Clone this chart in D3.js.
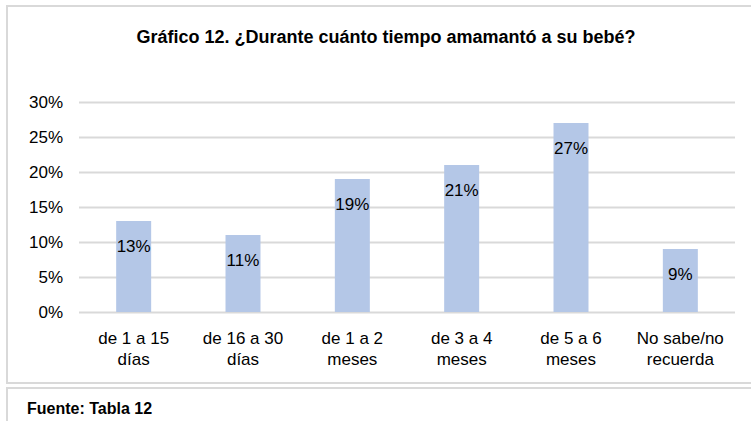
<!DOCTYPE html>
<html>
<head>
<meta charset="utf-8">
<script src="https://cdn.jsdelivr.net/npm/d3@7"></script>
<style>
  body { margin: 0; background: #fff; }
  svg { display: block; font-family: "Liberation Sans", Arial, sans-serif; }
</style>
</head>
<body>
<svg id="chart" width="751" height="421"></svg>
<script>
// data
const categories = [
  ["de 1 a 15", "días"],
  ["de 16 a 30", "días"],
  ["de 1 a 2", "meses"],
  ["de 3 a 4", "meses"],
  ["de 5 a 6", "meses"],
  ["No sabe/no", "recuerda"]
];
const values = [0.13, 0.11, 0.19, 0.21, 0.27, 0.09];
const yTicks = [0, 0.05, 0.10, 0.15, 0.20, 0.25, 0.30];
const title = "Gráfico 12. ¿Durante cuánto tiempo amamantó a su bebé?";
const source = "Fuente: Tabla 12";

const svg = d3.select("#chart");
const margin = { left: 79, right: 16, top: 102, bottom: 109 };
const W = 751, H = 421;

// frames
svg.append("rect")
  .attr("x", 7).attr("y", 6)
  .attr("width", 760).attr("height", 377)
  .attr("fill", "none").attr("stroke", "#d9d9d9").attr("stroke-width", 2);
svg.append("rect")
  .attr("x", 7).attr("y", 388)
  .attr("width", 760).attr("height", 60)
  .attr("fill", "none").attr("stroke", "#d9d9d9").attr("stroke-width", 2);

const x = d3.scaleBand()
  .domain(d3.range(categories.length))
  .range([margin.left, W - margin.right])
  .paddingInner(0.68).paddingOuter(0.34);

const y = d3.scaleLinear()
  .domain([0, 0.30])
  .range([312, margin.top]);

// grid
svg.append("g")
  .selectAll("line")
  .data(yTicks)
  .enter()
  .append("line")
    .attr("x1", margin.left)
    .attr("x2", W - margin.right)
    .attr("y1", d => Math.round(y(d)) + 0.5)
    .attr("y2", d => Math.round(y(d)) + 0.5)
    .attr("stroke", "#d9d9d9")
    .attr("stroke-width", 2);

// y axis labels
const yAxis = d3.axisLeft(y)
  .tickValues(yTicks)
  .tickFormat(d3.format(".0%"))
  .tickSize(0)
  .tickPadding(16);
svg.append("g")
  .attr("transform", "translate(" + margin.left + ",0)")
  .call(yAxis)
  .call(g => g.select(".domain").remove())
  .selectAll("text")
    .attr("font-size", 17)
    .attr("font-family", "Liberation Sans, Arial, sans-serif")
    .attr("fill", "#000");

// bars
svg.append("g")
  .selectAll("rect")
  .data(values)
  .enter()
  .append("rect")
    .attr("x", (d, i) => x(i))
    .attr("y", d => y(d))
    .attr("width", x.bandwidth())
    .attr("height", d => y(0) - y(d))
    .attr("fill", "#b4c7e7");

// value labels
svg.append("g")
  .selectAll("text")
  .data(values)
  .enter()
  .append("text")
    .attr("x", (d, i) => x(i) + x.bandwidth() / 2)
    .attr("y", d => y(d) + 30.5)
    .attr("text-anchor", "middle")
    .attr("font-size", 17)
    .attr("fill", "#000")
    .text(d => Math.round(d * 100) + "%");

// category labels
const cat = svg.append("g")
  .selectAll("text")
  .data(categories)
  .enter()
  .append("text")
    .attr("text-anchor", "middle")
    .attr("font-size", 17)
    .attr("fill", "#000");
cat.each(function(d, i) {
  const t = d3.select(this);
  d.forEach((line, j) => {
    t.append("tspan")
      .attr("x", x(i) + x.bandwidth() / 2)
      .attr("y", 344 + j * 20.5)
      .text(line);
  });
});

// title
svg.append("text")
  .attr("x", 386)
  .attr("y", 43)
  .attr("text-anchor", "middle")
  .attr("font-size", 18)
  .attr("font-weight", "bold")
  .attr("fill", "#000")
  .text(title);

// source
svg.append("text")
  .attr("x", 27)
  .attr("y", 414)
  .attr("font-size", 16)
  .attr("font-weight", "bold")
  .attr("fill", "#000")
  .text(source);
</script>
</body>
</html>
